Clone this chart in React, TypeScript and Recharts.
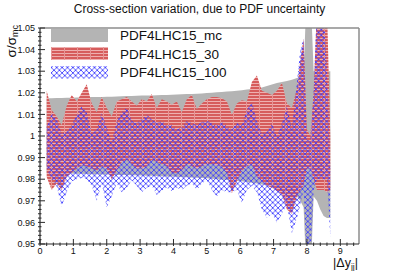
import React from 'react'
import { ComposedChart, Area, XAxis, YAxis, ReferenceLine } from 'recharts'

const FONT = '"Liberation Sans", Arial, Helvetica, sans-serif'

// |dy_jj| bin positions
const dyBins = [
  0.2, 0.35, 0.5, 0.65, 0.8, 0.95, 1.1, 1.25, 1.4, 1.55, 1.7, 1.85, 2.0, 2.15, 2.3, 2.45, 2.6, 2.75, 2.9, 3.05,
  3.2, 3.35, 3.5, 3.65, 3.8, 3.95, 4.1, 4.25, 4.4, 4.55, 4.7, 4.85, 5.0, 5.15, 5.3, 5.45, 5.6, 5.75, 5.9, 6.05,
  6.2, 6.35, 6.5, 6.65, 6.8, 6.95, 7.1, 7.25, 7.4, 7.55, 7.7, 7.8, 7.9, 8.0, 8.1, 8.2, 8.3, 8.4, 8.5, 8.6, 8.7,
]

// PDF4LHC15_mc band
const mcHigh = [
  1.0175, 1.0175, 1.0176, 1.0176, 1.0177, 1.0177, 1.0178, 1.0178, 1.0179, 1.018, 1.018, 1.0181, 1.0182, 1.0182, 1.0183, 1.0184, 1.0185, 1.0185, 1.0186, 1.0187,
  1.0188, 1.0188, 1.0189, 1.019, 1.019, 1.0191, 1.0192, 1.0193, 1.0194, 1.0195, 1.0196, 1.0197, 1.0199, 1.02, 1.0202, 1.0204, 1.0206, 1.0207, 1.0209, 1.0212,
  1.0215, 1.0218, 1.022, 1.0225, 1.0232, 1.0238, 1.0245, 1.025, 1.0255, 1.026, 1.0268, 1.0272, 1.029, 1.07, 1.07, 1.03, 1.03, 1.031, 1.031, 1.03, 1.03,
]
const mcLow = [
  0.9828, 0.9828, 0.9827, 0.9827, 0.9826, 0.9826, 0.9825, 0.9825, 0.9824, 0.9823, 0.9823, 0.9822, 0.9822, 0.9821, 0.982, 0.982, 0.9819, 0.9818, 0.9818, 0.9817,
  0.9816, 0.9816, 0.9815, 0.9814, 0.9813, 0.9812, 0.9811, 0.981, 0.9809, 0.9808, 0.9807, 0.9806, 0.9804, 0.9802, 0.98, 0.9798, 0.9796, 0.9794, 0.9792, 0.979,
  0.9787, 0.9784, 0.978, 0.9776, 0.9772, 0.9768, 0.9764, 0.976, 0.9755, 0.975, 0.972, 0.97, 0.967, 0.93, 0.93, 0.972, 0.97, 0.966, 0.963, 0.962, 0.962,
]

// PDF4LHC15_30 band
const p30High = [
  1.021, 1.012, 1.009, 1.005, 1.014, 1.019, 1.016, 1.02, 1.024, 1.015, 1.011, 1.018, 1.013, 1.009, 1.016, 1.017, 1.018, 1.016, 1.014, 1.017,
  1.016, 1.0195, 1.013, 1.017, 1.016, 1.0145, 1.016, 1.011, 1.017, 1.019, 1.0125, 1.015, 1.017, 1.018, 1.018, 1.0175, 1.016, 1.0098, 1.015, 1.0165,
  1.016, 1.025, 1.028, 1.021, 1.02, 1.019, 1.021, 1.0245, 1.015, 1.013, 1.022, 1.035, 1.045, 1.003, 1.0, 1.02, 1.06, 1.06, 1.06, 1.06, 1.0,
]
const p30Low = [
  0.981, 0.975, 0.978, 0.975, 0.981, 0.983, 0.985, 0.9865, 0.986, 0.985, 0.984, 0.986, 0.985, 0.98, 0.984, 0.988, 0.989, 0.987, 0.985, 0.985,
  0.986, 0.989, 0.988, 0.987, 0.986, 0.983, 0.983, 0.984, 0.987, 0.986, 0.985, 0.986, 0.987, 0.987, 0.9865, 0.986, 0.983, 0.9735, 0.979, 0.984,
  0.986, 0.987, 0.981, 0.979, 0.977, 0.976, 0.9745, 0.973, 0.966, 0.964, 0.972, 0.975, 0.977, 0.985, 0.985, 0.98, 0.975, 0.975, 0.975, 0.974, 0.975,
]

// PDF4LHC15_100 band
const p100High = [
  1.004, 1.0106, 1.008, 1.001, 1.002, 1.005, 1.01, 1.0137, 1.011, 1.001, 1.003, 1.0106, 1.004, 0.997, 1.0067, 1.011, 1.0135, 1.007, 1.006, 1.008,
  1.01, 1.0075, 1.006, 1.007, 1.005, 1.005, 1.003, 1.004, 1.007, 1.006, 1.005, 1.0065, 1.007, 1.006, 1.005, 1.0065, 1.0045, 1.003, 1.006, 1.005,
  1.012, 1.0155, 1.007, 1.001, 1.002, 1.006, 0.9995, 1.006, 1.0135, 1.004, 1.025, 1.04, 1.045, 0.998, 0.998, 1.02, 1.06, 1.06, 1.06, 1.03, 0.985,
]
const p100Low = [
  0.985, 0.98, 0.9766, 0.967, 0.974, 0.979, 0.98, 0.9805, 0.98, 0.977, 0.97, 0.978, 0.967, 0.972, 0.978, 0.974, 0.976, 0.9795, 0.977, 0.974,
  0.976, 0.977, 0.9727, 0.9745, 0.976, 0.9745, 0.976, 0.975, 0.977, 0.978, 0.975, 0.978, 0.9795, 0.975, 0.972, 0.975, 0.974, 0.974, 0.975, 0.969,
  0.975, 0.977, 0.974, 0.966, 0.962, 0.964, 0.96, 0.964, 0.968, 0.955, 0.962, 0.968, 0.975, 0.94, 0.94, 0.975, 0.98, 0.98, 0.98, 0.98, 0.953,
]

const yTickLabels = ['0.95', '0.96', '0.97', '0.98', '0.99', '1', '1.01', '1.02', '1.03', '1.04', '1.05']
const xTickLabels = ['0', '1', '2', '3', '4', '5', '6', '7', '8', '9']
const legendNames = ['PDF4LHC15_mc', 'PDF4LHC15_30', 'PDF4LHC15_100']

const data = dyBins.map((x, i) => ({
  x,
  mc: [mcLow[i], mcHigh[i]],
  p30: [p30Low[i], p30High[i]],
  p100: [p100Low[i], p100High[i]],
}))

const X_MAX = 9.56
const yTicks: number[] = []
for (let i = 0; i <= 50; i++) yTicks.push(+(0.95 + i * 0.002).toFixed(3))
const xTicks: number[] = []
for (let i = 0; i <= 47; i++) xTicks.push(+(i * 0.2).toFixed(1))

const GRAY = '#b4b4b4'
const AXIS = '#2a2a2a'

function Patterns({ prefix }: { prefix: string }) {
  return (
    <defs>
      <pattern id={`${prefix}-red`} patternUnits="userSpaceOnUse" width="13" height="3">
        <rect width="13" height="3" fill="#eeb0b0" />
        <rect width="13" height="2" fill="#d65c5c" />
        <rect x="12" width="1" height="3" fill="#e69696" />
      </pattern>
      <pattern id={`${prefix}-blue`} patternUnits="userSpaceOnUse" width="5.4" height="5.4">
        <path d="M0,0 L5.4,5.4 M5.4,0 L0,5.4" stroke="#3a3aff" strokeWidth="0.85" fill="none" />
      </pattern>
    </defs>
  )
}

function YTick(props: any) {
  const { x, y, payload } = props
  const k = Math.round((payload.value - 0.95) * 1000)
  const major = k % 10 === 0
  return (
    <g>
      <line x1={x} x2={x + (major ? 7 : 3.5)} y1={y} y2={y} stroke={AXIS} strokeWidth={1} />
      {major && (
        <text x={x - 3} y={y} dy={3.2} textAnchor="end" fontSize={9} fill="#111" fontFamily={FONT}>
          {yTickLabels[k / 10]}
        </text>
      )}
    </g>
  )
}

function XTick(props: any) {
  const { x, y, payload } = props
  const k = Math.round(payload.value * 10)
  const major = k % 10 === 0
  return (
    <g>
      <line x1={x} x2={x} y1={y} y2={y - (major ? 7 : 3.5)} stroke={AXIS} strokeWidth={1} />
      {major && (
        <text x={x} y={y} dy={8} textAnchor="middle" fontSize={9} fill="#111" fontFamily={FONT}>
          {xTickLabels[k / 10]}
        </text>
      )}
    </g>
  )
}

export default function App() {
  return (
    <div style={{ position: 'relative', width: 399, height: 271, background: '#fff', fontFamily: FONT }}>
      <style>{'body{margin:0}'}</style>
      <ComposedChart width={399} height={271} data={data} margin={{ top: 28, right: 40, bottom: 0, left: 0 }}>
        <Patterns prefix="plot" />
        <XAxis
          type="number"
          dataKey="x"
          domain={[0, X_MAX]}
          ticks={xTicks}
          interval={0}
          tickSize={0}
          tickLine={false}
          height={27}
          axisLine={{ stroke: AXIS, strokeWidth: 1.2 }}
          tick={(p: any) => <XTick {...p} />}
        />
        <YAxis
          type="number"
          domain={[0.95, 1.05]}
          allowDataOverflow
          ticks={yTicks}
          interval={0}
          tickSize={0}
          tickLine={false}
          width={40}
          axisLine={{ stroke: AXIS, strokeWidth: 1.2 }}
          tick={(p: any) => <YTick {...p} />}
        />
        <Area type="linear" dataKey="mc" stroke="none" fill={GRAY} fillOpacity={1} dot={false} activeDot={false} isAnimationActive={false} />
        <Area type="linear" dataKey="p30" stroke="none" fill="url(#plot-red)" fillOpacity={1} dot={false} activeDot={false} isAnimationActive={false} />
        <Area type="linear" dataKey="p100" stroke="none" fill="url(#plot-blue)" fillOpacity={1} dot={false} activeDot={false} isAnimationActive={false} />
        <ReferenceLine y={1.05} stroke="#8c8c8c" strokeWidth={1.5} />
        <ReferenceLine x={X_MAX} stroke="#8c8c8c" strokeWidth={1.5} />
      </ComposedChart>

      <svg width={399} height={271} style={{ position: 'absolute', left: 0, top: 0, pointerEvents: 'none' }}>
        <Patterns prefix="leg" />
        <text x={199.5} y={13.3} textAnchor="middle" fontSize={12} fill="#111" fontFamily={FONT}>
          Cross-section variation, due to PDF uncertainty
        </text>
        <text transform="translate(16,25) rotate(-90)" textAnchor="end" fontSize={13.5} fill="#111" fontFamily={FONT}>
          σ/σ<tspan fontSize={9} dy={1.5}>mc</tspan>
        </text>
        <text x={358} y={267} textAnchor="end" fontSize={12.5} fill="#111" fontFamily={FONT}>
          |Δy<tspan fontSize={8.5} dy={2.5}>jj</tspan><tspan dy={-2.5}>|</tspan>
        </text>
        <rect x={51} y={29} width={57} height={13} fill={GRAY} />
        <rect x={51} y={47} width={57} height={13} fill="url(#leg-red)" />
        <rect x={51} y={66} width={57} height={12.5} fill="url(#leg-blue)" />
        {legendNames.map((name, i) => (
          <text key={name} x={120} y={[40, 59, 76.5][i]} fontSize={13.5} fill="#111" fontFamily={FONT}>
            {name}
          </text>
        ))}
      </svg>
    </div>
  )
}
